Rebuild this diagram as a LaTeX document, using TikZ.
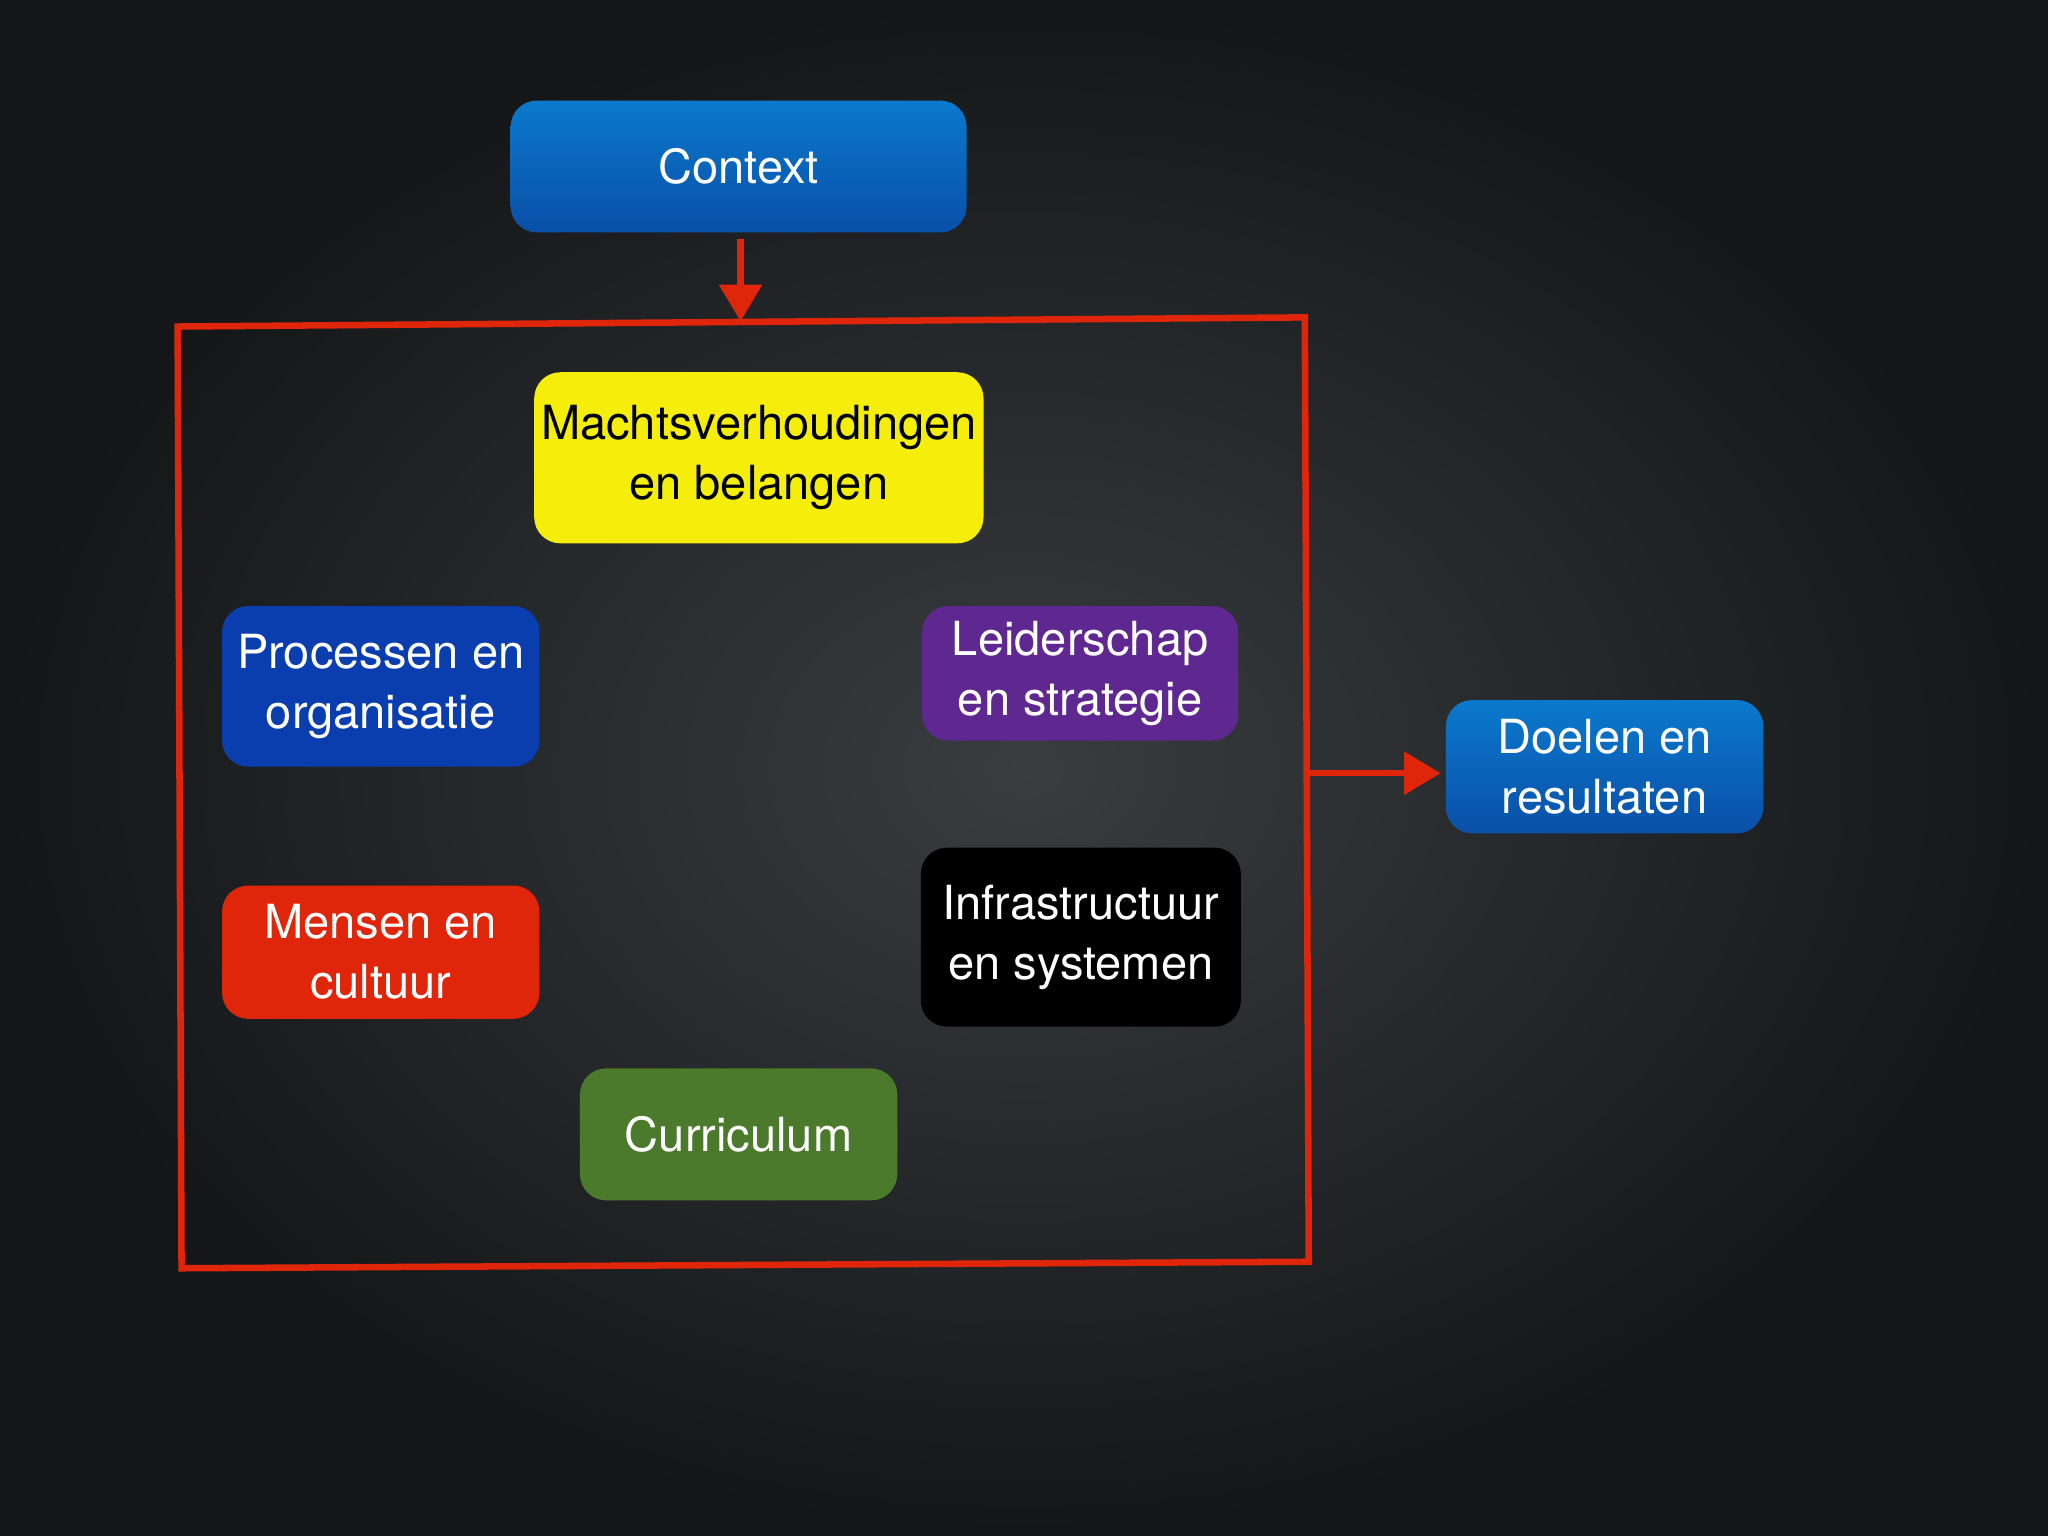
\documentclass[tikz,border=0pt]{standalone}
\usepackage{fontspec}
\setmainfont{TeX Gyre Heros}
\usetikzlibrary{arrows.meta}
\definecolor{bgin}{HTML}{3A3D40}
\definecolor{bgout}{HTML}{141618}
\definecolor{cblueT}{HTML}{0A7ACC}
\definecolor{cblueB}{HTML}{0A4FA8}
\definecolor{cproc}{HTML}{0A3EAE}
\definecolor{cpurp}{HTML}{5E2890}
\definecolor{cred}{HTML}{E0260A}
\definecolor{cgreen}{HTML}{4C7A2C}
\definecolor{cyel}{HTML}{F5EE0A}
\definecolor{cframe}{HTML}{E0260A}
\begin{document}
\begin{tikzpicture}[x=0.5pt,y=-0.5pt,
  box/.style={rounded corners=10pt,text=white,align=center,font=\fontsize{18}{23}\selectfont,inner sep=0pt},
  conn/.style={draw=cframe,line width=2.5pt,-{Triangle[length=14pt,width=16pt]}}]
\useasboundingbox (0,0) rectangle (1568,1176);
\shade[inner color=bgin,outer color=bgout] (0,0) rectangle (1568,1176);
\newcommand\bx[6]{\node[box,minimum width=#4*0.5pt-#2*0.5pt,minimum height=#5*0.5pt-#3*0.5pt,#6] at ({(#2+#4)/2},{(#3+#5)/2})}
\bx{ctx}{391}{77}{740}{178}{top color=cblueT,bottom color=cblueB} (ctx) {Context};
\bx{m}{409}{285}{753}{416}{fill=cyel,text=black} (m) {Machtsverhoudingen\\en belangen};
\bx{p}{170}{464}{413}{587}{fill=cproc} (p) {Processen en\\organisatie};
\bx{l}{706}{464}{948}{567}{fill=cpurp} (l) {Leiderschap\\en strategie};
\bx{d}{1107}{536}{1350}{638}{top color=cblueT,bottom color=cblueB} (d) {Doelen en\\resultaten};
\bx{mc}{170}{678}{413}{780}{fill=cred} (mc) {Mensen en\\cultuur};
\bx{i}{705}{649}{950}{786}{fill=black} (i) {Infrastructuur\\en systemen};
\bx{c}{444}{818}{687}{919}{fill=cgreen} (c) {Curriculum};
\draw[cframe,line width=2.5pt] (136,250) coordinate (tl) -- (999,243) coordinate (tr) -- (1002,966) coordinate (br) -- (139,971) coordinate (bl) -- cycle;
\coordinate (ft) at (567,246);
\coordinate (fr) at (1000,592);
\coordinate (cs) at (567,183);
\coordinate (de) at (1103,592);
\draw[conn] (cs) -- (ft);
\draw[conn] (fr) -- (de);
\end{tikzpicture}
\end{document}
